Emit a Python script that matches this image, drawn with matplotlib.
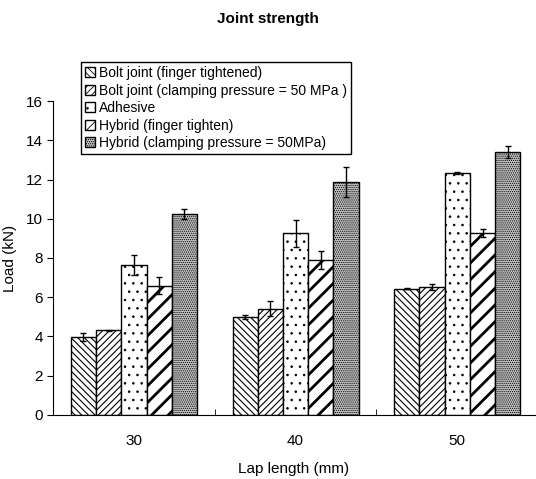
import numpy as np
import matplotlib.pyplot as plt

plt.rcParams['font.family'] = ['Liberation Sans', 'DejaVu Sans']

# data
lap_lengths = ['30', '40', '50']
series = ['Bolt joint (finger tightened)',
          'Bolt joint (clamping pressure = 50 MPa )',
          'Adhesive',
          'Hybrid (finger tighten)',
          'Hybrid (clamping pressure = 50MPa)']
bolt_finger = [3.96, 4.98, 6.44]
bolt_clamp = [4.30, 5.42, 6.54]
adhesive = [7.64, 9.26, 12.31]
hybrid_finger = [6.59, 7.90, 9.26]
hybrid_clamp = [10.24, 11.87, 13.42]
bolt_finger_err = [0.20, 0.10, 0.03]
bolt_clamp_err = [0.05, 0.37, 0.15]
adhesive_err = [0.50, 0.70, 0.05]
hybrid_finger_err = [0.43, 0.46, 0.20]
hybrid_clamp_err = [0.27, 0.78, 0.30]

values = [bolt_finger, bolt_clamp, adhesive, hybrid_finger, hybrid_clamp]
errors = [bolt_finger_err, bolt_clamp_err, adhesive_err, hybrid_finger_err, hybrid_clamp_err]
hatches = ['\\\\\\\\\\', '/////', '..', '//', '........']
faces = ['white', 'white', 'white', 'white', '#c4c4c4']
hatch_lw = [0.8, 0.8, 0.6, 2.0, 0.6]

fig = plt.figure(figsize=(5.36, 4.79), dpi=100)
ax = fig.add_axes([0.099, 0.134, 0.899, 0.655])

x = np.arange(len(lap_lengths))
width = 0.156
for i in range(len(series)):
    plt.rcParams['hatch.linewidth'] = hatch_lw[i]
    pos = x + (i - 2) * width
    ax.bar(pos, values[i], width, color=faces[i], edgecolor='black',
           hatch=hatches[i], linewidth=1.0, label=series[i])
    ax.errorbar(pos, values[i], yerr=errors[i], fmt='none', ecolor='black',
                elinewidth=1.0, capsize=2, capthick=1.0)

ax.set_xlim(-0.5, 2.48)
ax.set_ylim(0, 16)
ax.set_yticks(range(0, 17, 2))
ax.set_xticks(x)
ax.set_xticklabels(lap_lengths)
ax.set_xticks([0.5, 1.5], minor=True)
ax.tick_params(axis='x', which='major', length=0, pad=14, labelsize=11)
ax.tick_params(axis='x', which='minor', length=4, direction='in')
ax.tick_params(axis='y', length=4, labelsize=11)
ax.spines['top'].set_visible(False)
ax.spines['right'].set_visible(False)
ax.set_xlabel('Lap length (mm)', fontsize=11, labelpad=10)
ax.set_ylabel('Load (kN)', fontsize=11, labelpad=6)

fig.suptitle('Joint strength', fontsize=11, fontweight='bold', x=0.5, y=0.975)

fig.legend(loc='upper left', bbox_to_anchor=(0.138, 0.885), fontsize=10,
           frameon=True, fancybox=False, edgecolor='black', framealpha=1,
           handlelength=0.7, handleheight=0.7, handletextpad=0.3,
           labelspacing=0.25, borderpad=0.3)

fig.savefig('out.png', dpi=100)
